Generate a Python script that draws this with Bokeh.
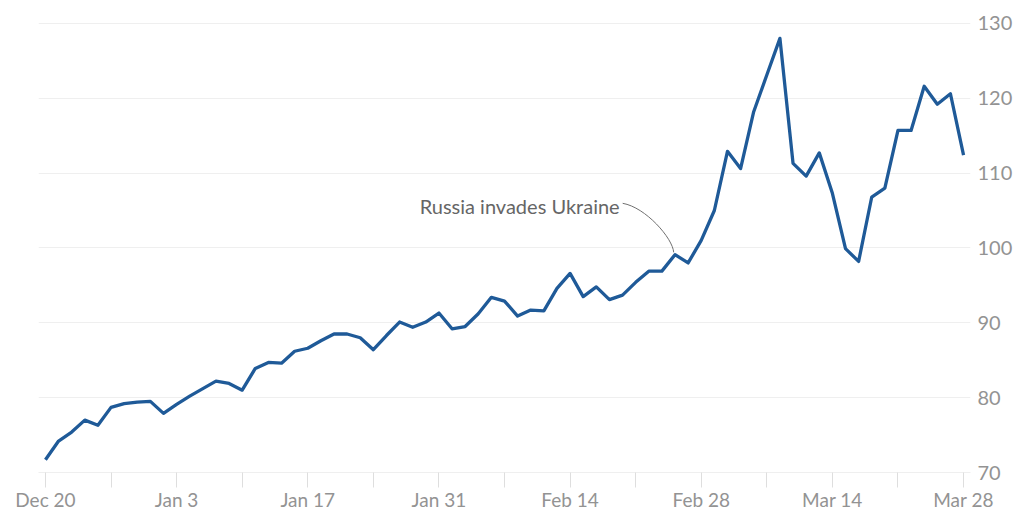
import pandas as pd
from bokeh.plotting import figure
from bokeh.models import FixedTicker, Label, Range1d
from bokeh.embed import file_html
from bokeh.resources import INLINE

# ---- data -------------------------------------------------------------
dates = pd.bdate_range("2021-12-20", "2022-03-28")  # 71 trading days
values = [
    71.7, 74.2, 75.4, 77.0, 76.3, 78.7, 79.2, 79.4, 79.5, 77.9,
    79.1, 80.2, 81.2, 82.2, 81.9, 81.0, 83.9, 84.7, 84.6, 86.2,
    86.6, 87.6, 88.5, 88.5, 88.0, 86.4, 88.3, 90.1, 89.4, 90.1,
    91.3, 89.2, 89.5, 91.2, 93.4, 92.9, 90.9, 91.7, 91.6, 94.6,
    96.6, 93.5, 94.8, 93.1, 93.7, 95.4, 96.9, 96.9, 99.1, 98.0,
    101.0, 105.0, 112.9, 110.6, 118.2, 123.1, 128.0, 111.3, 109.6, 112.7,
    107.3, 99.9, 98.2, 106.8, 108.0, 115.7, 115.7, 121.6, 119.2, 120.6,
    112.4,
]
x_idx = list(range(len(values)))
x_major_idx = [0, 10, 20, 30, 40, 50, 60, 70]
x_minor_idx = [5, 15, 25, 35, 45, 55, 65]
x_tick_labels = [f"{dates[i]:%b} {dates[i].day}" for i in x_major_idx]
y_ticks = [70, 80, 90, 100, 110, 120, 130]
annotation_text = "Russia invades Ukraine"
annotation_idx = 48  # Feb 24

# ---- style ------------------------------------------------------------
LINE = "#1f5a98"
GRID = "#efefef"
TICK = "#dedede"
LABEL = "#939393"
FONT = "Lato"

x_lo, x_hi = -0.53, 70.53
p = figure(width=1029, height=514, output_backend="svg", toolbar_location=None,
           x_range=Range1d(x_lo, x_hi), y_range=Range1d(70, 130.65),
           y_axis_location="right",
           min_border_left=38, min_border_right=59, min_border_top=18,
           min_border_bottom=42)
p.outline_line_color = None
p.background_fill_color = "white"
p.border_fill_color = "white"

p.xgrid.visible = False
p.ygrid.ticker = FixedTicker(ticks=y_ticks)
p.ygrid.grid_line_color = GRID
p.ygrid.grid_line_width = 1

ax = p.xaxis[0]
ax.ticker = FixedTicker(ticks=x_major_idx, minor_ticks=x_minor_idx)
ax.major_label_overrides = {i: lab for i, lab in zip(x_major_idx, x_tick_labels)}
ax.axis_line_color = GRID
ax.major_tick_line_color = TICK
ax.minor_tick_line_color = TICK
ax.major_tick_in = 0
ax.minor_tick_in = 0
ax.major_tick_out = 15
ax.minor_tick_out = 15
ax.major_label_standoff = 0
ax.major_label_text_font = FONT
ax.major_label_text_font_size = "19px"
ax.major_label_text_color = LABEL

ay = p.yaxis[0]
ay.ticker = FixedTicker(ticks=y_ticks)
ay.axis_line_color = None
ay.major_tick_line_color = None
ay.minor_tick_line_color = None
ay.major_label_text_font = FONT
ay.major_label_text_font_size = "20px"
ay.major_label_text_color = LABEL
ay.major_label_text_align = "right"
ay.major_label_standoff = 1

p.line(x=x_idx, y=values, line_color=LINE, line_width=3.3, line_join="round")

ax_x = x_idx[annotation_idx]
ax_y = values[annotation_idx]
p.bezier(x0=[ax_x - 3.99], y0=[ax_y + 6.86],
         cx0=[ax_x - 2.23], cy0=[ax_y + 6.33],
         cx1=[ax_x - 0.17], cy1=[ax_y + 2.18],
         x1=[ax_x - 0.10], y1=[ax_y + 0.31],
         line_color="#707070", line_width=1)
p.add_layout(Label(x=ax_x - 4.22, y=ax_y + 6.46, text=annotation_text,
                   text_align="right", text_baseline="middle",
                   text_font=FONT, text_font_size="20px", text_color="#666666"))

open("out.html", "w").write(file_html(p, INLINE))
